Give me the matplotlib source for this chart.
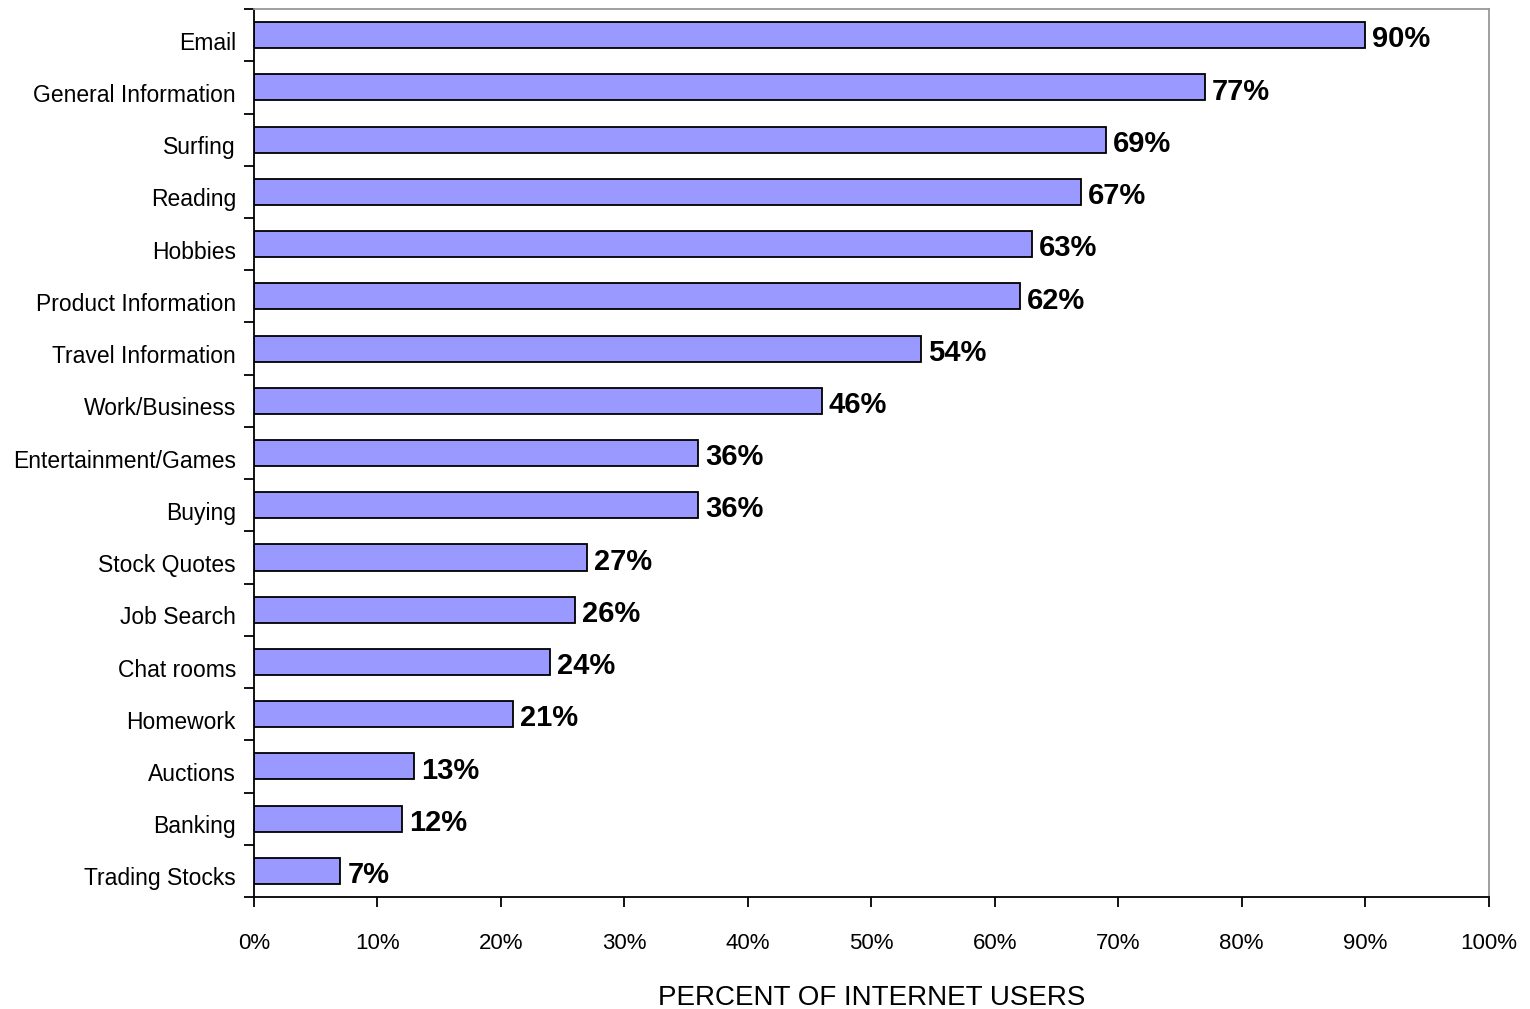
import numpy as np
import matplotlib
matplotlib.use("Agg")
import matplotlib.pyplot as plt
import matplotlib.transforms as mtransforms

# Data (top to bottom)
activities = ["Email", "General Information", "Surfing", "Reading", "Hobbies",
              "Product Information", "Travel Information", "Work/Business",
              "Entertainment/Games", "Buying", "Stock Quotes", "Job Search",
              "Chat rooms", "Homework", "Auctions", "Banking", "Trading Stocks"]
percents = [90, 77, 69, 67, 63, 62, 54, 46, 36, 36, 27, 26, 24, 21, 13, 12, 7]
x_ticks = [0, 10, 20, 30, 40, 50, 60, 70, 80, 90, 100]

plt.rcParams['font.family'] = ['Liberation Sans', 'DejaVu Sans']

fig = plt.figure(figsize=(15.3, 10.09), dpi=100)
ax = fig.add_axes([0.166, 0.111, 0.807, 0.880])

y = np.arange(len(activities))
ax.barh(y, percents, height=0.5, color="#9999FF", edgecolor="black", linewidth=1.3)

# Value labels to the right of each bar
for yi, val in zip(y, percents):
    ax.annotate(f"{val}%", (val, yi), xytext=(5, -3), textcoords="offset points",
                ha="left", va="center", fontsize=21, fontweight="bold")

ax.set_xlim(0, 100)
ax.set_ylim(len(activities) - 0.5, -0.5)

ax.set_xticks(x_ticks)
ax.set_xticklabels([f"{t}%" for t in x_ticks], fontsize=16)
ax.tick_params(axis="x", direction="out", length=7, width=1.3, pad=19)

# Tick marks at category boundaries, labels at centers
ax.set_yticks(np.arange(-0.5, len(activities), 1.0))
ax.set_yticklabels([])
ax.set_yticks(y, minor=True)
ax.set_yticklabels(activities, minor=True, fontsize=16.5)
ax.tick_params(axis="y", which="major", direction="out", length=7, width=1.3)
ax.tick_params(axis="y", which="minor", length=0, pad=13)

# nudge category labels down a little, as in the original
shift = mtransforms.ScaledTranslation(0, -4 / 72, fig.dpi_scale_trans)
for lbl in ax.get_yticklabels(minor=True):
    lbl.set_transform(lbl.get_transform() + shift)

ax.set_xlabel("PERCENT OF INTERNET USERS", fontsize=20, labelpad=22)

for side in ["left", "bottom"]:
    ax.spines[side].set_linewidth(1.3)
for side in ["top", "right"]:
    ax.spines[side].set_color("#999999")
    ax.spines[side].set_linewidth(1.3)

fig.savefig("out.png", dpi=100)
